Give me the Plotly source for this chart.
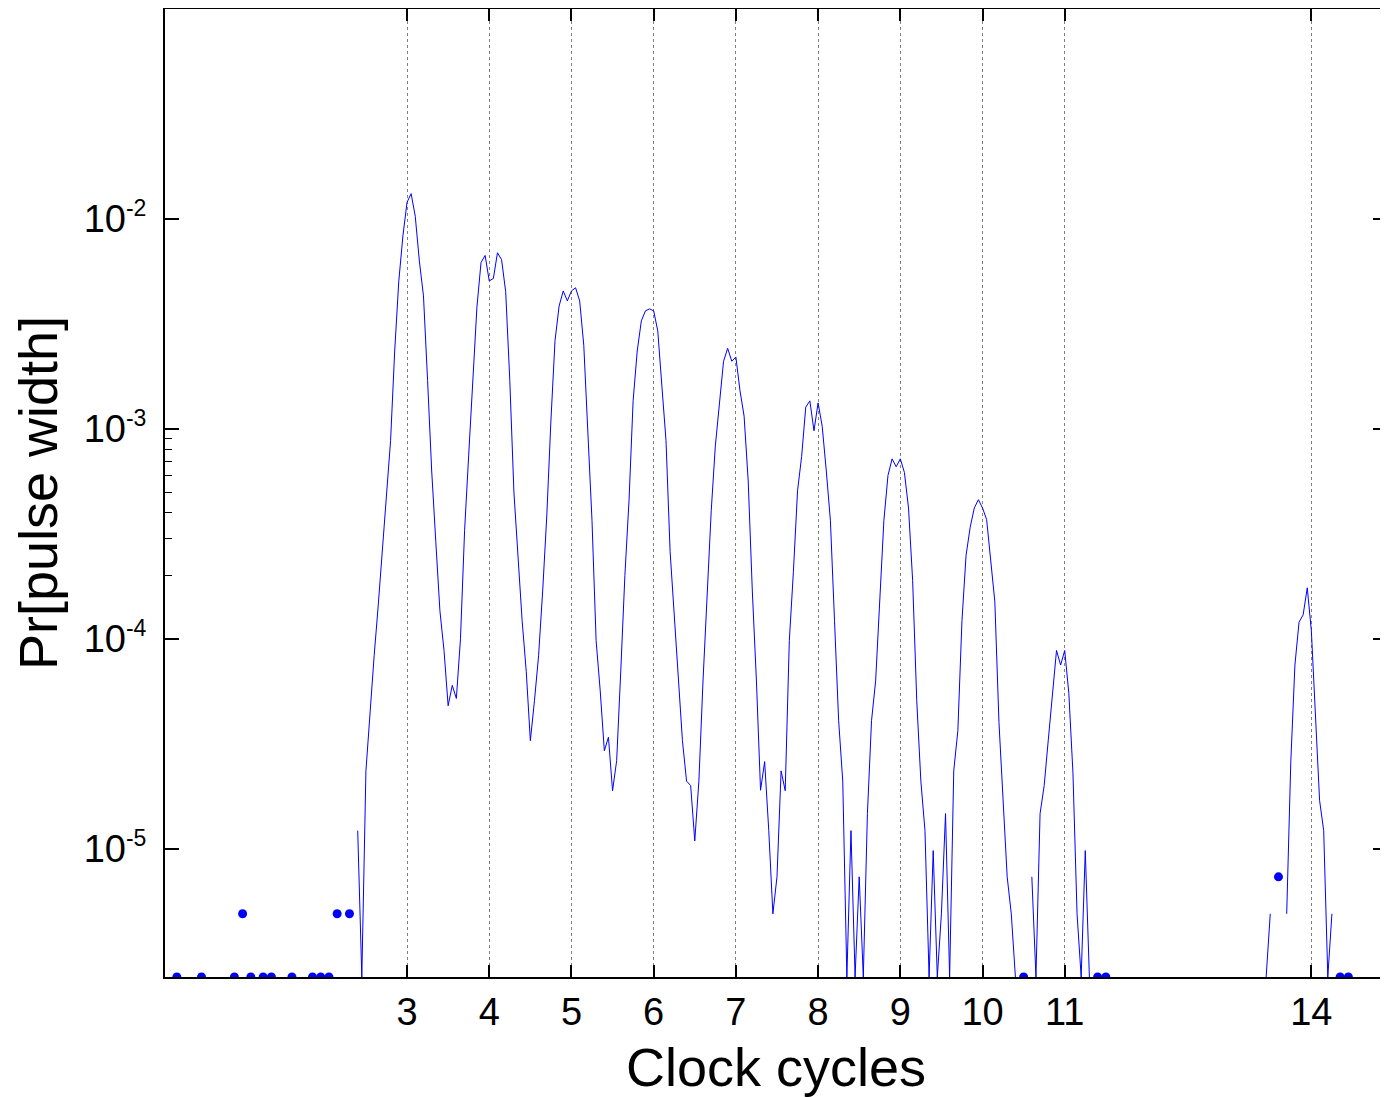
import math
import plotly.graph_objects as go

# Histogram of pulse widths (bins of 0.05 clock cycles, first bin centre 0.10)
bin_start = 0.10
bin_width = 0.05

# Pr[pulse width] per bin; None = empty bin (not drawable on a log axis)
pr = (
    # 0.10 - 0.45
    [None, None, 2.45e-6, None, None, None, None, None]
    # 0.50 - 0.95
    + [2.45e-6, None, None, None, None, None, None, None, 2.45e-6, None]
    # 1.00 - 1.45
    + [4.9e-6, None, 2.45e-6, None, None, 2.45e-6, None, 2.45e-6, None, None]
    # 1.50 - 1.95
    + [None, None, 2.45e-6, None, None, None, None, 2.45e-6, None, 2.45e-6]
    # 2.00 - 2.45
    + [None, 2.45e-6, None, 4.9e-6, None, None, 4.9e-6, None, 1.22e-5, 2.45e-6]
    # 2.50 - 2.95
    + [2.35e-5, 4.5e-5, 8.3e-5, 1.45e-4, 2.6e-4, 4.54e-4, 8.8e-4, 2.35e-3, 5.07e-3, 8.3e-3]
    # 3.00 - 3.45
    + [1.2e-2, 1.32e-2, 1.03e-2, 6.3e-3, 4.3e-3, 1.7e-3, 6.3e-4, 2.9e-4, 1.36e-4, 8.8e-5]
    # 3.50 - 3.95
    + [4.8e-5, 6.0e-5, 5.2e-5, 1.0e-4, 3.27e-4, 7.5e-4, 1.7e-3, 3.8e-3, 6.2e-3, 6.7e-3]
    # 4.00 - 4.45
    + [5.07e-3, 5.2e-3, 6.9e-3, 6.4e-3, 4.5e-3, 1.7e-3, 5.0e-4, 2.35e-4, 1.22e-4, 7.0e-5]
    # 4.50 - 4.95
    + [3.27e-5, 5.07e-5, 8.3e-5, 1.69e-4, 3.85e-4, 1.09e-3, 2.63e-3, 3.85e-3, 4.54e-3, 4.07e-3]
    # 5.00 - 5.45
    + [4.54e-3, 4.7e-3, 4.07e-3, 2.5e-3, 8.8e-4, 3.65e-4, 9.8e-5, 5.65e-5, 2.93e-5, 3.4e-5]
    # 5.50 - 5.95
    + [1.89e-5, 2.63e-5, 7.04e-5, 2.0e-4, 4.54e-4, 1.36e-3, 2.35e-3, 3.27e-3, 3.65e-3, 3.73e-3]
    # 6.00 - 6.45
    + [3.65e-3, 2.93e-3, 1.6e-3, 8.8e-4, 2.6e-4, 1.3e-4, 6.3e-5, 3.27e-5, 2.1e-5, 2.0e-5]
    # 6.50 - 6.95
    + [1.09e-5, 2.1e-5, 6.3e-5, 1.7e-4, 4.07e-4, 8.3e-4, 1.27e-3, 2.1e-3, 2.42e-3, 2.1e-3]
    # 7.00 - 7.45
    + [2.2e-3, 1.52e-3, 1.15e-3, 5.65e-4, 1.69e-4, 6.3e-5, 1.9e-5, 2.6e-5, 1.22e-5, 4.9e-6]
    # 7.50 - 7.95
    + [7.35e-6, 2.35e-5, 1.89e-5, 9.8e-5, 2.1e-4, 5.07e-4, 7.4e-4, 1.27e-3, 1.36e-3, 9.8e-4]
    # 8.00 - 8.45
    + [1.33e-3, 1.03e-3, 6.3e-4, 3.65e-4, 1.22e-4, 4.07e-5, 2.1e-5, 2.45e-6, 1.22e-5, 2.45e-6]
    # 8.50 - 8.95
    + [7.35e-6, 2.45e-6, 1.47e-5, 4.07e-5, 6.3e-5, 1.52e-4, 3.65e-4, 6.0e-4, 7.2e-4, 6.6e-4]
    # 9.00 - 9.45
    + [7.2e-4, 6.2e-4, 4.2e-4, 1.9e-4, 5.07e-5, 2.1e-5, 1.22e-5, 2.45e-6, 9.8e-6, 2.45e-6]
    # 9.50 - 9.95
    + [4.9e-6, 1.47e-5, 2.45e-6, 2.35e-5, 3.65e-5, 1.22e-4, 2.5e-4, 3.4e-4, 4.2e-4, 4.6e-4]
    # 10.00 - 10.45
    + [4.2e-4, 3.7e-4, 2.3e-4, 1.5e-4, 4.0e-5, 1.7e-5, 7.35e-6, 4.9e-6, 2.45e-6, None]
    # 10.50 - 10.95
    + [2.45e-6, None, 7.35e-6, 2.45e-6, 1.47e-5, 2.0e-5, 3.3e-5, 5.5e-5, 8.8e-5, 7.5e-5]
    # 11.00 - 11.45
    + [8.8e-5, 5.5e-5, 2.3e-5, 4.9e-6, 2.45e-6, 9.8e-6, 2.45e-6, None, 2.45e-6, None]
    # 11.50 - 11.95
    + [2.45e-6, None, None, None, None, None, None, None, None, None]
    # 12.00 - 12.95
    + [None] * 20
    # 13.00 - 13.45
    + [None, None, None, None, None, None, None, None, None, 2.45e-6]
    # 13.50 - 13.95
    + [4.9e-6, None, 7.35e-6, None, 4.9e-6, 2.6e-5, 7.5e-5, 1.2e-4, 1.3e-4, 1.75e-4]
    # 14.00 - 14.45
    + [1.09e-4, 4.07e-5, 1.7e-5, 1.22e-5, 2.45e-6, 4.9e-6, None, 2.45e-6, None, 2.45e-6]
    # 14.50 - 14.60
    + [None, None, None]
)

cycles = [round(bin_start + i * bin_width, 2) for i in range(len(pr))]

x_tick_vals = [3, 4, 5, 6, 7, 8, 9, 10, 11, 14]
x_tick_text = ["3", "4", "5", "6", "7", "8", "9", "10", "11", "14"]
y_tick_vals = [1e-5, 1e-4, 1e-3, 1e-2]
y_tick_exp = ["-5", "-4", "-3", "-2"]
y_minor_vals = [2e-4, 3e-4, 4e-4, 5e-4, 6e-4, 7e-4, 8e-4, 9e-4]

y_min = 2.45e-6
y_max = 1e-1
x_min, x_max = 0.056, 14.92

y_tick_text = ["10<sup><span style='font-size:23px'>%s</span></sup>" % e
               for e in y_tick_exp]

# isolated non-empty bins are drawn as dots
n = len(pr)
iso_x, iso_y = [], []
for i in range(n):
    if pr[i] is None:
        continue
    left_empty = i == 0 or pr[i - 1] is None
    right_empty = i == n - 1 or pr[i + 1] is None
    if left_empty and right_empty:
        iso_x.append(cycles[i])
        iso_y.append(pr[i])

blue = "#0000ff"
fig = go.Figure()
fig.add_trace(go.Scatter(x=cycles, y=pr, mode="lines", connectgaps=False,
                         line=dict(color=blue, width=1), hoverinfo="skip"))
fig.add_trace(go.Scatter(x=iso_x, y=iso_y, mode="markers",
                         marker=dict(color=blue, size=9), hoverinfo="skip"))
fig.add_trace(go.Scatter(x=[None], y=[None], yaxis="y2", hoverinfo="skip"))
fig.add_trace(go.Scatter(x=[None], y=[None], yaxis="y3", hoverinfo="skip"))

yr = [math.log10(y_min), math.log10(y_max)]
font_family = "Liberation Sans, Arial, sans-serif"

# the page body adds an 8 px offset; the figure is sized to fit the window
fig.update_layout(
    width=1380, height=1089,
    margin=dict(l=157, r=1, t=1, b=120, autoexpand=False),
    paper_bgcolor="white", plot_bgcolor="white",
    showlegend=False,
    font=dict(family=font_family, color="black"),
    xaxis=dict(
        range=[x_min, x_max], tickvals=x_tick_vals, ticktext=x_tick_text,
        ticks="inside", ticklen=12, tickwidth=1.5, tickcolor="black",
        showline=True, linecolor="black", linewidth=2, mirror="ticks",
        showgrid=True, gridcolor="#7f7f7f", griddash="dot", gridwidth=1,
        zeroline=False, tickfont=dict(size=38), automargin=False,
        title=dict(text="Clock cycles", font=dict(size=54), standoff=21),
    ),
    yaxis=dict(
        type="log", range=yr, tickvals=y_tick_vals, ticktext=y_tick_text,
        ticks="inside", ticklen=14, tickwidth=1.5, tickcolor="black",
        showline=True, linecolor="black", linewidth=2, mirror="ticks",
        showgrid=False, zeroline=False, tickfont=dict(size=38),
        automargin=False, ticklabelstandoff=9,
        title=dict(text="Pr[pulse width]", font=dict(size=54), standoff=14),
    ),
    yaxis2=dict(
        type="log", range=yr, overlaying="y", side="left", anchor="x",
        tickvals=y_minor_vals, ticks="inside", ticklen=7, tickwidth=1,
        tickcolor="black", showticklabels=False, showgrid=False,
        showline=False, zeroline=False, automargin=False,
    ),
    yaxis3=dict(
        type="log", range=yr, overlaying="y", side="right", anchor="x",
        tickvals=y_minor_vals, ticks="inside", ticklen=7, tickwidth=1,
        tickcolor="black", showticklabels=False, showgrid=False,
        showline=False, zeroline=False, automargin=False,
    ),
)

fig.write_html("out.html")
